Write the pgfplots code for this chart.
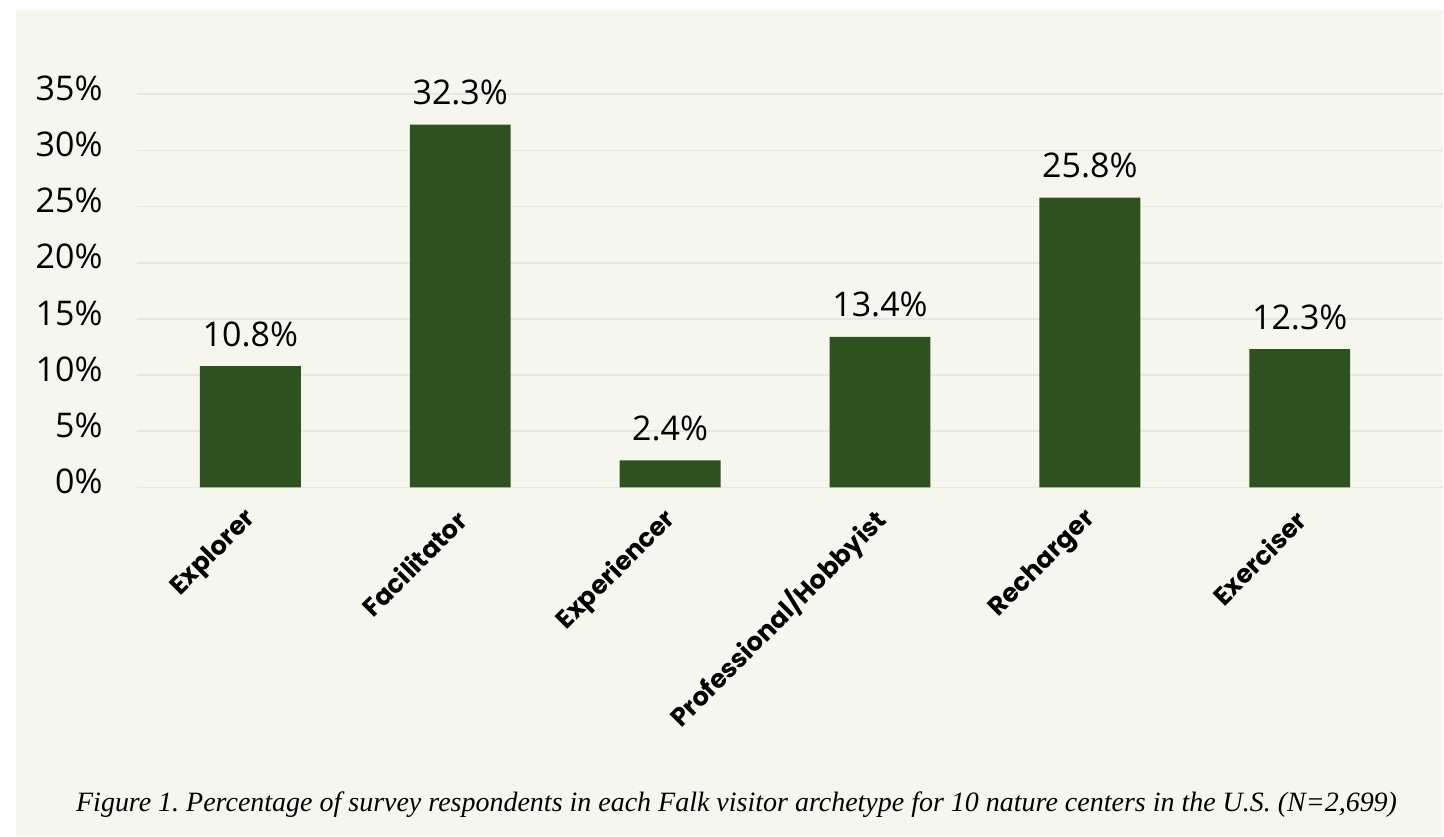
\documentclass[border=0pt]{standalone}
\usepackage{fontspec}
\usepackage{pgfplots}
\pgfplotsset{compat=1.18}
\setmainfont{Liberation Serif}
\newfontfamily\tickfont{Open Sans}
\newfontfamily\labfont{Poppins}
\definecolor{bg}{HTML}{F5F6EE}
\definecolor{barc}{HTML}{2F5120}
\definecolor{gridc}{HTML}{E6E7E1}
\begin{document}
\frenchspacing
\begin{tikzpicture}
\fill[white] (0pt,0pt) rectangle (722pt,418.5pt);
\fill[bg] (8pt,0pt) rectangle (722pt,413.5pt);
\begin{axis}[
  at={(68.5pt,174.65pt)}, anchor=south west,
  scale only axis, width=653.5pt, height=196.7pt,
  xmin=-0.5405, xmax=5.683, ymin=0, ymax=35,
  ybar, bar width=0.481,
  axis line style={draw=none},
  major tick length=0pt,
  ymajorgrids, xmajorgrids=false,
  grid style={draw=gridc, line width=0.9pt},
  ytick={0,5,...,35},
  yticklabel={\pgfmathprintnumber{\tick}\%},
  /pgf/number format/assume math mode=true,
  yticklabel style={font=\tickfont\fontsize{17}{20}\selectfont, anchor=east, inner sep=0pt, xshift=-17pt, yshift=3pt},
  xtick={0,1,2,3,4,5},
  xticklabels={Explorer, Facilitator, Experiencer, Professional/Hobbyist, Recharger, Exerciser},
  xticklabel style={font=\labfont\bfseries\fontsize{12.8}{15}\selectfont, xshift=1pt, yshift=-14pt, rotate=45, anchor=east, inner sep=0pt},
  nodes near coords={\pgfmathprintnumber[fixed,precision=1,fixed zerofill]{\pgfplotspointmeta}\%},
  node near coords style={font=\tickfont\fontsize{17}{20}\selectfont, anchor=base, inner sep=0pt, yshift=10pt, text=black},
  clip=false,
]
\addplot[fill=barc, draw=none] coordinates {(0,10.8) (1,32.3) (2,2.4) (3,13.4) (4,25.8) (5,12.3)};
\end{axis}
\node[anchor=base, font=\itshape\fontsize{14}{17}\selectfont] at (368.5pt,12.5pt) {Figure 1. Percentage of survey respondents in each Falk visitor archetype for 10 nature centers in the U.S. (N=2,699)};
\end{tikzpicture}
\end{document}
